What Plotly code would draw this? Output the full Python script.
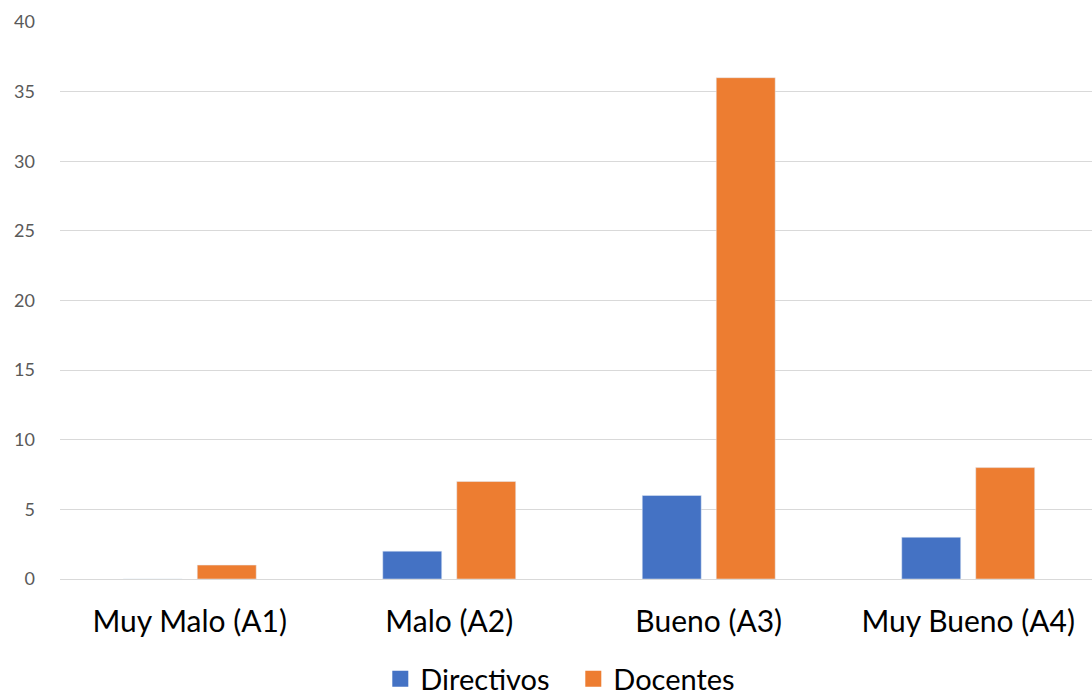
import plotly.graph_objects as go

categories = ["Muy Malo (A1)", "Malo (A2)", "Bueno (A3)", "Muy Bueno (A4)"]
directivos = [0, 2, 6, 3]
docentes = [1, 7, 36, 8]
y_ticks = [0, 5, 10, 15, 20, 25, 30, 35, 40]

FONT = "Lato, Open Sans, sans-serif"
C_DIR = "#4472C4"
C_DOC = "#ED7D31"

fig = go.Figure()
fig.add_trace(go.Bar(name="Directivos", x=categories, y=directivos, marker_color=C_DIR, showlegend=False))
fig.add_trace(go.Bar(name="Docentes", x=categories, y=docentes, marker_color=C_DOC, showlegend=False))
# legend entries (square swatches)
fig.add_trace(go.Scatter(name="Directivos", x=[None], y=[None], mode="markers",
                         marker=dict(symbol="square", size=18, color=C_DIR)))
fig.add_trace(go.Scatter(name="Docentes", x=[None], y=[None], mode="markers",
                         marker=dict(symbol="square", size=18, color=C_DOC)))

fig.update_layout(
    width=1092, height=695,
    margin=dict(l=60, r=0, t=22, b=116, autoexpand=False),
    paper_bgcolor="white", plot_bgcolor="white",
    barmode="group", bargap=0.4297, bargroupgap=0.203,
    font=dict(family=FONT),
    showlegend=True,
    legend=dict(orientation="h", xref="container", yref="container",
                x=0.525, xanchor="center", y=0.023, yanchor="middle",
                font=dict(size=29, color="#000000", family=FONT),
                traceorder="normal", itemsizing="trace", itemwidth=30,
                entrywidth=148, entrywidthmode="pixels"),
)
fig.update_yaxes(range=[0, 40], tickvals=y_ticks, showgrid=True, gridcolor="#D9D9D9", gridwidth=1,
                 zeroline=True, zerolinecolor="#D9D9D9", zerolinewidth=1,
                 tickfont=dict(size=18, color="#595959", family=FONT), ticklabelstandoff=24,
                 showline=False, fixedrange=True, automargin=False)
fig.update_xaxes(range=[-0.5, 3.477], tickfont=dict(size=30, color="#000000", family=FONT),
                 ticklabelstandoff=22, showline=False, showgrid=False, automargin=False)

fig.write_html("out.html", config={"displayModeBar": False},
               post_script="document.body.style.margin='0';document.body.style.overflow='hidden';")
